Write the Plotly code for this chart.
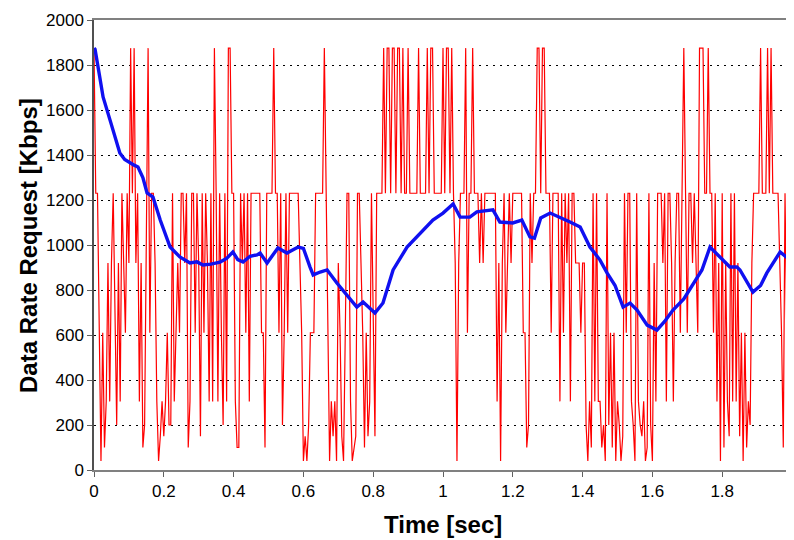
import plotly.graph_objects as go

# Red: instantaneous data rate request (Kbps), sampled every 5 ms from 0 to 2 s
dt = 0.005
red_a = [1875, 1230, 1230, 610, 40, 610, 100, 305, 920, 305,
         920, 1230, 610, 200, 920, 305, 1230, 920, 610, 1230,
         920, 1875, 1230, 1875, 920, 1230, 305, 920, 100, 200,
         1230, 1875, 610, 1230, 1230, 920, 305, 40, 150, 305,
         150, 305, 610, 200, 200, 1230, 305, 610, 920, 610,
         1230, 1230, 920, 1230, 100, 305, 1230, 1230, 610, 1230,
         920, 150, 1230, 610, 1230, 920, 305]
red_b = [1230, 305, 1875, 1230, 305, 1230, 610, 200, 1230, 305,
         1875, 1875, 1230, 1230, 305, 100, 100, 1230, 920, 1230,
         610, 1230, 305, 1230, 1230, 1230, 1230, 1230, 1230, 610,
         610, 100, 1230, 1230, 1230, 1230, 1875, 1230, 1230, 610,
         1230, 200, 610, 1230, 610, 1230, 1230, 1230, 1230, 1230,
         1230, 920, 610, 40, 150, 40, 200, 610, 610, 610,
         1230, 1230, 1230, 1230, 1230, 1875, 1230]
red_c = [610, 40, 305, 150, 305, 40, 920, 610, 150, 40,
         610, 1230, 1230, 305, 40, 100, 150, 1230, 1230, 920,
         610, 100, 610, 150, 305, 1230, 610, 150, 1230, 1230,
         1230, 1230, 1875, 1230, 1875, 1875, 1230, 1875, 1875, 1230,
         1875, 1875, 1230, 1875, 1230, 1230, 1875, 1230, 1230, 1230,
         1230, 1230, 1875, 1230, 1230, 1230, 1230, 1875, 1230, 1875,
         1875, 1230, 1230, 1230, 1230, 1230]
red_d = [1875, 1230, 1875, 1875, 1230, 1875, 1230, 920, 40, 920,
         1230, 1230, 1230, 1875, 610, 1230, 1230, 1875, 1230, 1230,
         1230, 920, 1230, 920, 1230, 1230, 1230, 1230, 1230, 1230,
         1230, 305, 920, 40, 920, 1230, 610, 920, 1230, 920,
         1230, 1230, 1230, 1230, 1230, 1230, 610, 610, 100, 200,
         1230, 920, 1230, 1230, 1875, 1875, 1230, 1875, 1875, 1230,
         1230, 1230, 610, 1230, 1230, 1230, 1230]
red_e = [305, 1230, 610, 1230, 920, 1230, 305, 1230, 1230, 920,
         920, 920, 610, 920, 920, 200, 40, 305, 100, 1230,
         305, 1230, 305, 305, 100, 200, 40, 1230, 200, 610,
         100, 610, 40, 305, 200, 40, 150, 1230, 610, 1230,
         1230, 305, 200, 40, 1230, 305, 200, 150, 305, 40,
         100, 1230, 200, 40, 920, 305, 1230, 1230, 1230, 920,
         1230, 305, 1230, 1230, 920, 305]
red_f = [920, 1230, 1230, 610, 1230, 1875, 1230, 610, 1230, 1230,
         920, 1230, 920, 610, 1875, 1875, 1875, 1230, 1230, 1875,
         1230, 1230, 610, 1230, 305, 920, 40, 1230, 100, 920,
         305, 150, 1230, 305, 1230, 305, 920, 150, 610, 40,
         610, 100, 305, 200, 920, 1230, 1230, 1230, 1230, 1875,
         1230, 1230, 1230, 1875, 1230, 1875, 1230, 1230, 1230, 1230,
         920, 610, 100, 1230, 610, 1230, 610, 1230]
red_vals = red_a + red_b + red_c + red_d + red_e + red_f
red_t = [round(i * dt, 4) for i in range(len(red_vals))]

# Blue: smoothed (average) data rate request
blue_t = [0.0, 0.003, 0.015, 0.026, 0.046, 0.06, 0.074, 0.088, 0.103, 0.115,
          0.126, 0.14, 0.152, 0.169, 0.19, 0.218, 0.246, 0.275, 0.295, 0.312,
          0.335, 0.361, 0.38, 0.398, 0.412, 0.427, 0.447, 0.467, 0.476, 0.496,
          0.527, 0.553, 0.585, 0.6, 0.619, 0.628, 0.648, 0.668, 0.696, 0.725,
          0.753, 0.771, 0.79, 0.805, 0.828, 0.857, 0.897, 0.934, 0.971, 1.0,
          1.029, 1.049, 1.077, 1.097, 1.12, 1.143, 1.163, 1.2, 1.226, 1.249,
          1.262, 1.28, 1.307, 1.335, 1.364, 1.393, 1.421, 1.45, 1.47, 1.493,
          1.516, 1.536, 1.556, 1.585, 1.613, 1.635, 1.659, 1.69, 1.716, 1.742,
          1.765, 1.794, 1.822, 1.842, 1.851, 1.888, 1.91, 1.928, 1.95, 1.966,
          1.985, 2.0]
blue_vals = [1875, 1870, 1760, 1658, 1555, 1480, 1409, 1380, 1364, 1355,
             1347, 1300, 1231, 1213, 1110, 991, 947, 920, 925, 911,
             915, 924, 940, 969, 935, 924, 950, 956, 964, 920,
             987, 964, 991, 985, 902, 867, 880, 889, 831, 778,
             724, 747, 720, 698, 742, 889, 991, 1053, 1111, 1142,
             1182, 1124, 1124, 1147, 1150, 1156, 1102, 1098, 1111, 1036,
             1030, 1120, 1142, 1124, 1102, 1080, 991, 933, 876, 820,
             724, 742, 711, 644, 622, 660, 711, 760, 822, 889,
             991, 947, 902, 902, 889, 791, 820, 876, 930, 969,
             945, 942]

x_ticks = [0, 0.2, 0.4, 0.6, 0.8, 1, 1.2, 1.4, 1.6, 1.8, 2]
y_ticks = [0, 200, 400, 600, 800, 1000, 1200, 1400, 1600, 1800, 2000]
x_title = "Time [sec]"
y_title = "Data Rate Request [Kbps]"

fig = go.Figure()
fig.add_trace(go.Scatter(x=red_t, y=red_vals, mode="lines",
                         line=dict(color="#FF0000", width=1.2),
                         showlegend=False))
fig.add_trace(go.Scatter(x=blue_t, y=blue_vals, mode="lines",
                         line=dict(color="#1010F0", width=3.4),
                         showlegend=False))

font_family = "Liberation Sans, Arial, sans-serif"
# The page body adds an 8px offset; margins compensate so the plot area
# lands at page pixels x 94..792, y 20..470.
fig.update_layout(
    width=794, height=540,
    margin=dict(l=86, r=10, t=12, b=78, autoexpand=False),
    paper_bgcolor="white", plot_bgcolor="white",
    font=dict(family=font_family, size=17, color="black"),
    xaxis=dict(range=[0, 2], tickvals=x_ticks, ticks="outside", ticklen=5,
               tickcolor="#606060", showgrid=False, zeroline=False, automargin=False,
               showline=True, linecolor="#808080", linewidth=1.5, mirror=True,
               tickfont=dict(size=17)),
    yaxis=dict(range=[0, 2000], tickvals=y_ticks, ticks="outside", ticklen=5,
               tickcolor="#606060", showgrid=True, gridcolor="black",
               griddash="2px,5px", gridwidth=1, zeroline=False, automargin=False,
               showline=True, linecolor="#505050", linewidth=1.5, mirror=True,
               tickfont=dict(size=17)),
    annotations=[
        dict(text="<b>" + x_title + "</b>", xref="paper", yref="paper",
             x=0.5, y=-0.12, xanchor="center", yanchor="middle",
             showarrow=False, font=dict(size=24, family=font_family)),
        dict(text="<b>" + y_title + "</b>", xref="paper", yref="paper",
             x=-0.0946, y=0.5, xanchor="center", yanchor="middle", textangle=-90,
             showarrow=False, font=dict(size=24, family=font_family)),
    ],
)

fig.write_html("out.html")
